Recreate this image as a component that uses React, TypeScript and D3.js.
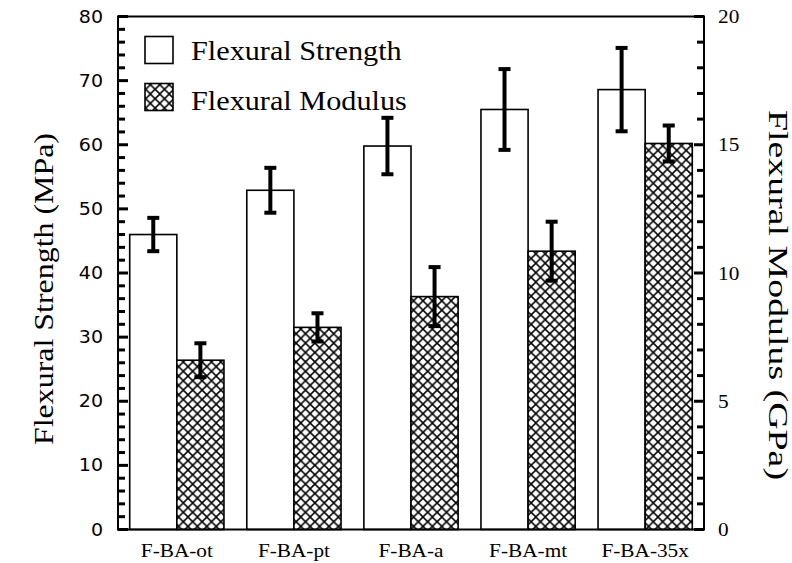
import React from 'react';
import * as d3 from 'd3';

const categories = ['F-BA-ot', 'F-BA-pt', 'F-BA-a', 'F-BA-mt', 'F-BA-35x'];
const strength = [46.0, 52.9, 59.8, 65.5, 68.6];
const strengthErr = [2.6, 3.5, 4.4, 6.3, 6.5];
const modulus = [6.6, 7.88, 9.08, 10.85, 15.05];
const modulusErr = [0.66, 0.55, 1.15, 1.15, 0.7];
const leftTicks = [0, 10, 20, 30, 40, 50, 60, 70, 80];
const rightTicks = [0, 5, 10, 15, 20];

const W = 792;
const H = 563;
const margin = { top: 16.5, right: 88, bottom: 33.5, left: 118 };
const SX = 1.12; // text in the source looks horizontally stretched
const HP = 9.4; // hatch period

const serif = '"Liberation Serif", "Times New Roman", serif';

const App: React.FC = () => {
    const x0 = margin.left;
    const x1 = W - margin.right;
    const yTop = margin.top;
    const yBot = H - margin.bottom;

    const x = d3.scaleBand<string>()
        .domain(categories)
        .range([x0, x1])
        .paddingInner(0.195)
        .paddingOuter(0.1);
    const half = x.bandwidth() / 2;

    const yL = d3.scaleLinear().domain([0, 80]).range([yBot, yTop]);
    const yR = d3.scaleLinear().domain([0, 20]).range([yBot, yTop]);

    const leftMinor = d3.range(0, 81, 2);
    const rightMinor = d3.range(0, 21, 1);

    const errBar = (cx: number, lo: number, hi: number, key: string) => (
        <g key={key} stroke="#000">
            <line x1={cx} x2={cx} y1={lo} y2={hi} strokeWidth={4} />
            <line x1={cx - 6} x2={cx + 6} y1={lo} y2={lo} strokeWidth={4} />
            <line x1={cx - 6} x2={cx + 6} y1={hi} y2={hi} strokeWidth={4} />
        </g>
    );

    return (
        <svg width={W} height={H} style={{ position: 'absolute', left: 0, top: 0, background: '#fff' }}>
            <defs>
                <pattern id="hatch" patternUnits="userSpaceOnUse" width={HP} height={HP}>
                    <rect width={HP} height={HP} fill="#fff" />
                    <path d={`M-2,-2L${HP + 2},${HP + 2}M${HP + 2},-2L-2,${HP + 2}`} stroke="#000" strokeWidth={1.5} />
                </pattern>
            </defs>

            {/* bars */}
            {categories.map((c, i) => (
                <g key={c}>
                    <rect x={x(c)!} y={yL(strength[i])} width={half} height={yBot - yL(strength[i])}
                        fill="#fff" stroke="#000" strokeWidth={1.6} />
                    <rect x={x(c)! + half} y={yR(modulus[i])} width={half} height={yBot - yR(modulus[i])}
                        fill="url(#hatch)" stroke="#000" strokeWidth={1.6} />
                </g>
            ))}

            {/* error bars */}
            {categories.map((c, i) => errBar(x(c)! + half / 2,
                yL(strength[i] - strengthErr[i]), yL(strength[i] + strengthErr[i]), 's' + i))}
            {categories.map((c, i) => errBar(x(c)! + half * 1.5,
                yR(modulus[i] - modulusErr[i]), yR(modulus[i] + modulusErr[i]), 'm' + i))}

            {/* frame */}
            <rect x={x0} y={yTop} width={x1 - x0} height={yBot - yTop} fill="none" stroke="#000" strokeWidth={2} />

            {/* left ticks */}
            {leftMinor.map(v => (
                <line key={'lt' + v} x1={x0} x2={x0 + (v % 10 === 0 ? 10 : 7)} y1={yL(v)} y2={yL(v)}
                    stroke="#000" strokeWidth={3} />
            ))}
            {leftTicks.map(v => (
                <text key={'ll' + v} transform={`translate(${x0 - 15},${yL(v)}) scale(${SX},1)`}
                    textAnchor="end" dominantBaseline="central"
                    fontFamily='"DejaVu Sans", Verdana, sans-serif' fontSize={17}>{v}</text>
            ))}

            {/* right ticks */}
            {rightMinor.map(v => (
                <line key={'rt' + v} x1={x1} x2={x1 - (v % 5 === 0 ? 10 : 7)} y1={yR(v)} y2={yR(v)}
                    stroke="#000" strokeWidth={3} />
            ))}
            {rightTicks.map(v => (
                <text key={'rl' + v} transform={`translate(${x1 + 14},${yR(v)}) scale(${SX},1)`}
                    textAnchor="start" dominantBaseline="central"
                    fontFamily={serif} fontSize={19}>{v}</text>
            ))}

            {/* x labels */}
            {categories.map(c => (
                <text key={'xl' + c} transform={`translate(${x(c)! + half},${yBot + 27}) scale(${SX},1)`}
                    textAnchor="middle" fontFamily={serif} fontSize={19}>{c}</text>
            ))}

            {/* axis titles */}
            <text transform={`translate(44,289) rotate(-90)`} textAnchor="middle"
                dominantBaseline="central" fontFamily={serif} fontSize={27}
                textLength={312} lengthAdjust="spacingAndGlyphs">Flexural Strength (MPa)</text>
            <text transform={`translate(778,295) rotate(90)`} textAnchor="middle"
                dominantBaseline="central" fontFamily={serif} fontSize={27}
                textLength={370} lengthAdjust="spacingAndGlyphs">Flexural Modulus (GPa)</text>

            {/* legend */}
            <rect x={145} y={36.5} width={28} height={27} fill="#fff" stroke="#000" strokeWidth={1.6} />
            <text transform={`translate(191,59.5) scale(${SX},1)`} fontFamily={serif} fontSize={27}>Flexural Strength</text>
            <rect x={145} y={83.5} width={28} height={27} fill="url(#hatch)" stroke="#000" strokeWidth={1.6} />
            <text transform={`translate(191,110) scale(${SX},1)`} fontFamily={serif} fontSize={27}>Flexural Modulus</text>
        </svg>
    );
};

export default App;
